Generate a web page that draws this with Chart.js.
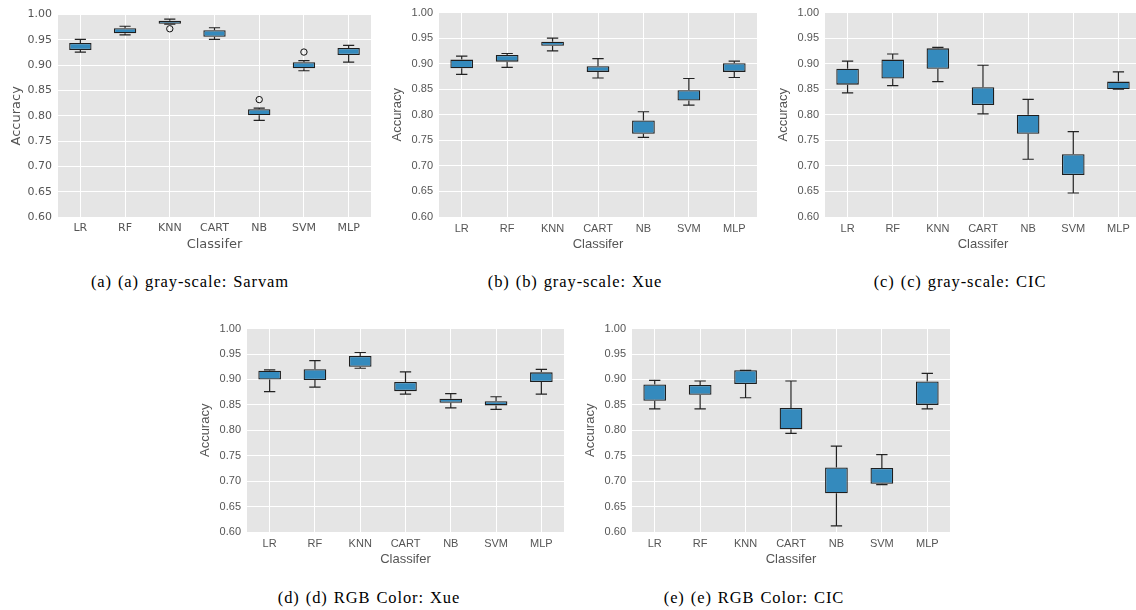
<!DOCTYPE html>
<html>
<head>
<meta charset="utf-8">
<script src="https://cdn.jsdelivr.net/npm/chart.js@4/dist/chart.umd.min.js"></script>
<style>
    body { margin: 0; background: #fff; width: 1136px; height: 610px; overflow: hidden; position: relative; }
    canvas { position: absolute; }
    .cap { position: absolute; transform: translateX(-50%); font-family: "Liberation Serif", serif; font-size: 16.5px; letter-spacing: 0.9px; word-spacing: 1px; color: #000; white-space: nowrap; }
</style>
</head>
<body>
<canvas id="chartA"></canvas>
<canvas id="chartB"></canvas>
<canvas id="chartC"></canvas>
<canvas id="chartD"></canvas>
<canvas id="chartE"></canvas>
<div class="cap" style="left:190px; top:272px;">(a) (a) gray-scale: Sarvam</div>
<div class="cap" style="left:575px; top:272px;">(b) (b) gray-scale: Xue</div>
<div class="cap" style="left:960px; top:272px;">(c) (c) gray-scale: CIC</div>
<div class="cap" style="left:369px; top:588px;">(d) (d) RGB Color: Xue</div>
<div class="cap" style="left:754px; top:588px;">(e) (e) RGB Color: CIC</div>
<script>
const classifiers = ["LR", "RF", "KNN", "CART", "NB", "SVM", "MLP"];

// (a) gray-scale: Sarvam
const sarvamGrayLow = [0.926, 0.960, 0.981, 0.951, 0.791, 0.889, 0.906];
const sarvamGrayQ1 = [0.930, 0.963, 0.982, 0.956, 0.801, 0.894, 0.920];
const sarvamGrayQ3 = [0.944, 0.973, 0.988, 0.969, 0.813, 0.906, 0.934];
const sarvamGrayHigh = [0.951, 0.977, 0.991, 0.974, 0.815, 0.909, 0.939];
const sarvamGrayOutliers = [null, null, 0.972, null, 0.832, 0.926, null];

// (b) gray-scale: Xue
const xueGrayLow = [0.879, 0.893, 0.925, 0.872, 0.756, 0.819, 0.873];
const xueGrayQ1 = [0.891, 0.904, 0.935, 0.884, 0.763, 0.828, 0.884];
const xueGrayQ3 = [0.908, 0.917, 0.943, 0.895, 0.789, 0.848, 0.901];
const xueGrayHigh = [0.915, 0.920, 0.950, 0.910, 0.806, 0.871, 0.905];

// (c) gray-scale: CIC
const cicGrayLow = [0.843, 0.857, 0.865, 0.802, 0.713, 0.647, 0.850];
const cicGrayQ1 = [0.859, 0.871, 0.890, 0.819, 0.763, 0.682, 0.850];
const cicGrayQ3 = [0.890, 0.908, 0.930, 0.854, 0.800, 0.723, 0.865];
const cicGrayHigh = [0.905, 0.919, 0.932, 0.897, 0.830, 0.767, 0.884];

// (d) RGB Color: Xue
const xueRgbLow = [0.876, 0.885, 0.922, 0.871, 0.844, 0.841, 0.871];
const xueRgbQ1 = [0.900, 0.899, 0.925, 0.877, 0.854, 0.849, 0.895];
const xueRgbQ3 = [0.917, 0.920, 0.946, 0.895, 0.862, 0.857, 0.914];
const xueRgbHigh = [0.919, 0.937, 0.953, 0.915, 0.872, 0.866, 0.920];

// (e) RGB Color: CIC
const cicRgbLow = [0.842, 0.842, 0.864, 0.794, 0.612, 0.693, 0.842];
const cicRgbQ1 = [0.858, 0.870, 0.891, 0.802, 0.676, 0.695, 0.850];
const cicRgbQ3 = [0.890, 0.889, 0.918, 0.844, 0.727, 0.726, 0.896];
const cicRgbHigh = [0.898, 0.897, 0.918, 0.897, 0.769, 0.752, 0.912];

const noOutliers = [null, null, null, null, null, null, null];

const Y_AXIS_W = 58;
const X_AXIS_H = 42;
const PAD_TOP = 10;
const PAD_RIGHT = 4;

function makeBoxChart(id, plot, family, low, q1, q3, high, outliers) {
    const canvas = document.getElementById(id);
    const w = Math.round(plot.right - plot.left + Y_AXIS_W + PAD_RIGHT);
    const h = Math.round(plot.bottom - plot.top + PAD_TOP + X_AXIS_H);
    canvas.width = w;
    canvas.height = h;
    canvas.style.width = w + "px";
    canvas.style.height = h + "px";
    canvas.style.left = (plot.left - Y_AXIS_W) + "px";
    canvas.style.top = (plot.top - PAD_TOP) + "px";

    const tickFont = { family: family, size: 11 };
    const titleFont = { family: family, size: 13 };

    const boxPlugin = {
        id: "boxExtras",
        beforeDraw(chart) {
            const a = chart.chartArea;
            const ctx = chart.ctx;
            ctx.save();
            ctx.fillStyle = "#E5E5E5";
            ctx.fillRect(a.left, a.top, a.right - a.left, a.bottom - a.top);
            ctx.restore();
        },
        beforeDatasetsDraw(chart) {
            const xs = chart.scales.x;
            const ys = chart.scales.y;
            const ctx = chart.ctx;
            const step = xs.getPixelForValue(1) - xs.getPixelForValue(0);
            const cap = step * 0.125;
            ctx.save();
            ctx.strokeStyle = "#222";
            ctx.lineWidth = 1.2;
            for (let i = 0; i < classifiers.length; i++) {
                const x = xs.getPixelForValue(i);
                const yLow = ys.getPixelForValue(low[i]);
                const yQ1 = ys.getPixelForValue(q1[i]);
                const yQ3 = ys.getPixelForValue(q3[i]);
                const yHigh = ys.getPixelForValue(high[i]);
                ctx.beginPath();
                ctx.moveTo(x, yQ1); ctx.lineTo(x, yLow);
                ctx.moveTo(x, yQ3); ctx.lineTo(x, yHigh);
                ctx.moveTo(x - cap, yLow); ctx.lineTo(x + cap, yLow);
                ctx.moveTo(x - cap, yHigh); ctx.lineTo(x + cap, yHigh);
                ctx.stroke();
            }
            ctx.restore();
        }
    };

    return new Chart(canvas.getContext("2d"), {
        type: "bar",
        data: {
            labels: classifiers,
            datasets: [
                {
                    data: q1.map((v, i) => [v, q3[i]]),
                    backgroundColor: "#348ABD",
                    borderColor: "#1e1e1e",
                    borderWidth: 1.3,
                    borderSkipped: false,
                    categoryPercentage: 0.5,
                    barPercentage: 1.0,
                    order: 2,
                },
                {
                    type: "line",
                    data: outliers,
                    showLine: false,
                    pointRadius: 3.2,
                    pointBorderWidth: 1,
                    pointBorderColor: "#111",
                    pointBackgroundColor: "rgba(0,0,0,0)",
                    order: 0,
                },
            ],
        },
        options: {
            responsive: false,
            animation: false,
            layout: { padding: { top: PAD_TOP, right: PAD_RIGHT, left: 0, bottom: 0 } },
            plugins: {
                legend: { display: false },
                tooltip: { enabled: false },
            },
            scales: {
                x: {
                    afterFit(scale) { scale.height = X_AXIS_H; },
                    grid: { color: "#ffffff", lineWidth: 1, offset: false, drawTicks: false },
                    border: { display: false },
                    ticks: { color: "#555", font: tickFont, padding: 5, maxRotation: 0 },
                    title: { display: true, text: "Classifer", color: "#555", font: titleFont, padding: { top: 7, bottom: 7 } },
                },
                y: {
                    min: 0.6,
                    max: 1.0,
                    afterFit(scale) { scale.width = Y_AXIS_W; },
                    grid: { color: "#ffffff", lineWidth: 1, drawTicks: false },
                    border: { display: false },
                    ticks: {
                        stepSize: 0.05,
                        autoSkip: false,
                        color: "#555",
                        font: tickFont,
                        padding: 6,
                        callback: (v) => Number(v).toFixed(2),
                    },
                    title: { display: true, text: "Accuracy", color: "#555", font: titleFont, padding: { top: 9, bottom: 9 } },
                },
            },
        },
        plugins: [boxPlugin],
    });
}

makeBoxChart("chartA", { left: 57.5, top: 12, right: 371.5, bottom: 216.7 }, "DejaVu Sans",
    sarvamGrayLow, sarvamGrayQ1, sarvamGrayQ3, sarvamGrayHigh, sarvamGrayOutliers);
makeBoxChart("chartB", { left: 438.5, top: 10, right: 757, bottom: 216.7 }, "Liberation Sans",
    xueGrayLow, xueGrayQ1, xueGrayQ3, xueGrayHigh, noOutliers);
makeBoxChart("chartC", { left: 825, top: 10, right: 1142, bottom: 216.7 }, "Liberation Sans",
    cicGrayLow, cicGrayQ1, cicGrayQ3, cicGrayHigh, noOutliers);
makeBoxChart("chartD", { left: 247.3, top: 326, right: 565.8, bottom: 532.3 }, "Liberation Sans",
    xueRgbLow, xueRgbQ1, xueRgbQ3, xueRgbHigh, noOutliers);
makeBoxChart("chartE", { left: 632.3, top: 326, right: 950.8, bottom: 532.3 }, "Liberation Sans",
    cicRgbLow, cicRgbQ1, cicRgbQ3, cicRgbHigh, noOutliers);
</script>
</body>
</html>
